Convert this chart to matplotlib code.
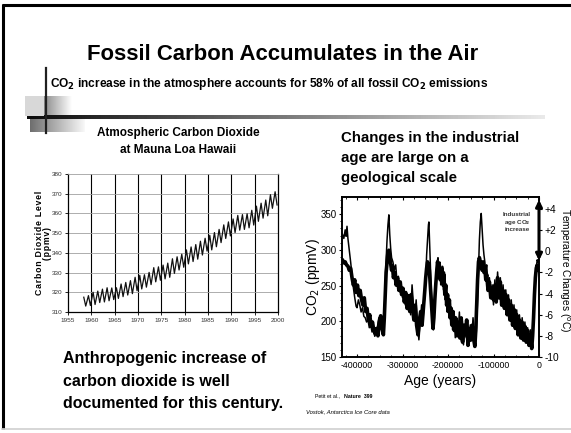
import numpy as np
import matplotlib
matplotlib.use("Agg")
import matplotlib.pyplot as plt
from matplotlib.patches import Rectangle

plt.rcParams['font.family'] = ['Liberation Sans', 'DejaVu Sans']

# ---------------- data ----------------
# Mauna Loa: yearly seasonal maximum (spring) and minimum (autumn), ppmv
ml_years = list(range(1958, 2000))
ml_peak = [317.5, 318.3, 320.0, 320.6, 321.6, 322.3, 322.2, 322.3, 324.2, 325.0,
           325.9, 327.6, 328.6, 328.9, 330.1, 332.5, 332.9, 333.8, 334.8, 337.0,
           338.0, 339.3, 341.5, 343.0, 344.2, 345.9, 347.4, 348.9, 350.3, 351.9,
           354.2, 355.7, 357.2, 359.0, 359.4, 359.8, 361.6, 363.7, 365.2, 366.8,
           369.5, 371.0]
ml_trough = [313.0, 313.3, 313.8, 314.8, 315.1, 315.7, 316.3, 316.9, 317.8, 318.6,
             319.3, 320.8, 321.7, 322.6, 323.9, 325.3, 326.1, 326.8, 327.6, 329.6,
             331.3, 332.7, 334.4, 335.6, 336.8, 338.9, 340.9, 341.5, 343.1, 345.2,
             347.3, 348.6, 350.3, 351.5, 351.9, 352.7, 354.1, 356.0, 357.6, 358.8,
             362.6, 364.3]
ml_xticks = [1955, 1960, 1965, 1970, 1975, 1980, 1985, 1990, 1995, 2000]
ml_yticks = [310, 320, 330, 340, 350, 360, 370, 380]

# Vostok ice core, age in kyr before present
vostok_co2_age_ka = [435, 432, 429, 426, 424, 422, 420, 417, 414, 411,
                     408, 405, 402, 400, 397, 394, 391, 388, 385, 382,
                     379, 376, 373, 370, 367, 364, 361, 358, 355, 352,
                     349, 346, 343, 341, 339, 337, 334, 332, 330, 328,
                     326, 324, 321, 318, 315, 312, 309, 306, 303, 300,
                     297, 294, 291, 288, 285, 282, 279, 276, 273, 270,
                     267, 264, 261, 258, 255, 252, 249, 247, 245, 243,
                     242, 240, 238, 236, 234, 232, 230, 228, 226, 224,
                     222, 220, 218, 216, 214, 212, 210, 208, 206, 204,
                     202, 200, 198, 196, 194, 192, 190, 187, 184, 181,
                     178, 175, 172, 169, 166, 163, 160, 157, 154, 151,
                     148, 145, 142, 139, 137, 135, 133, 131, 129, 127,
                     125, 123, 121, 119, 117, 115, 112, 109, 106, 103,
                     100, 97, 94, 91, 88, 85, 82, 79, 76, 73,
                     70, 67, 64, 61, 58, 55, 52, 49, 46, 43,
                     40, 37, 34, 31, 28, 25, 22, 19, 16, 14,
                     12, 10, 8, 6, 4, 2, 0]
vostok_co2_ppmv = [314, 322, 316, 328, 319, 333, 316, 300, 283, 265,
                   247, 233, 221, 219, 230, 223, 213, 219, 207, 205,
                   199, 202, 191, 195, 185, 188, 179, 184, 193, 205,
                   199, 188, 181, 196, 230, 272, 314, 335, 349, 321,
                   302, 289, 283, 272, 279, 255, 263, 241, 251, 233,
                   244, 223, 235, 216, 230, 209, 251, 223, 205, 230,
                   195, 174, 199, 223, 202, 230, 258, 293, 314, 335,
                   339, 300, 265, 230, 202, 188, 216, 244, 265, 283,
                   289, 275, 283, 251, 272, 277, 244, 269, 230, 244,
                   213, 230, 205, 223, 195, 216, 188, 209, 177, 202,
                   181, 213, 174, 205, 167, 195, 177, 202, 171, 195,
                   174, 205, 181, 171, 195, 230, 272, 314, 339, 351,
                   328, 307, 293, 283, 269, 279, 251, 261, 237, 251,
                   223, 258, 233, 269, 237, 261, 230, 251, 223, 244,
                   213, 237, 205, 230, 202, 223, 195, 216, 185, 209,
                   181, 205, 177, 199, 174, 191, 171, 188, 167, 181,
                   202, 230, 258, 275, 286, 283, 289]
vostok_temp_age_ka = [435, 432, 429, 426, 423, 420, 417, 414, 411, 408,
                      405, 402, 399, 396, 393, 390, 387, 384, 381, 378,
                      375, 372, 369, 366, 363, 360, 357, 354, 351, 348,
                      345, 342, 340, 338, 336, 334, 332, 330, 328, 326,
                      324, 322, 320, 317, 314, 311, 308, 305, 302, 299,
                      296, 293, 290, 287, 284, 281, 278, 275, 272, 269,
                      266, 263, 260, 257, 254, 251, 249, 247, 245, 243,
                      241, 239, 237, 235, 233, 231, 229, 227, 225, 223,
                      221, 219, 217, 215, 213, 211, 209, 207, 205, 203,
                      201, 199, 197, 195, 193, 191, 189, 186, 183, 180,
                      177, 174, 171, 168, 165, 162, 159, 156, 153, 150,
                      147, 144, 141, 139, 137, 135, 133, 131, 129, 127,
                      125, 123, 121, 119, 117, 115, 112, 109, 106, 103,
                      100, 97, 94, 91, 88, 85, 82, 79, 76, 73,
                      70, 67, 64, 61, 58, 55, 52, 49, 46, 43,
                      40, 37, 34, 31, 28, 25, 22, 19, 16, 14,
                      12, 10, 8, 6, 4, 2, 0]
vostok_temp_c = [-1.0, -0.8, -1.1, -1.0, -1.3, -1.4, -1.8, -1.6, -2.5, -3.2,
                 -2.7, -3.9, -3.2, -4.2, -3.7, -4.6, -5.1, -4.4, -5.7, -5.4,
                 -6.5, -6.0, -7.1, -6.7, -7.5, -7.8, -7.3, -8.0, -6.7, -6.1,
                 -7.3, -7.9, -6.3, -4.1, -2.0, -1.0, -0.1, 0.1, -0.6, -1.2,
                 -1.8, -1.4, -2.5, -2.0, -3.2, -2.5, -3.7, -2.9, -4.1, -3.5,
                 -4.8, -3.9, -5.4, -4.2, -5.7, -4.1, -5.4, -6.5, -5.1, -7.0,
                 -7.9, -6.5, -5.7, -7.0, -5.4, -3.7, -2.5, -1.6, -1.0, -1.2,
                 -1.8, -3.2, -4.6, -6.0, -7.3, -6.3, -4.6, -3.2, -2.0, -1.0,
                 -1.6, -1.3, -2.7, -2.0, -1.6, -3.2, -2.2, -4.1, -3.2, -5.1,
                 -4.1, -5.7, -4.6, -6.3, -5.4, -7.0, -5.7, -7.5, -6.3, -8.0,
                 -6.7, -8.2, -6.3, -8.6, -7.0, -7.9, -6.5, -8.9, -7.3, -8.4,
                 -7.0, -8.2, -9.0, -7.5, -5.1, -2.7, -1.0, -0.6, -1.0, -1.3,
                 -1.8, -1.0, -2.0, -1.6, -2.7, -2.2, -3.7, -2.9, -4.4, -3.5,
                 -4.6, -3.2, -4.8, -2.5, -4.4, -2.9, -5.1, -3.7, -5.4, -4.1,
                 -6.0, -4.6, -6.5, -5.1, -7.0, -5.5, -7.3, -6.0, -7.9, -6.5,
                 -8.2, -6.7, -8.4, -7.1, -8.6, -7.5, -8.9, -7.9, -9.2, -8.0,
                 -6.3, -4.1, -2.5, -1.6, -1.3, -1.6, -1.8]
industrial_co2 = [285, 370]
vostok_xticks = [-400000, -300000, -200000, -100000, 0]
vostok_co2_ticks = [150, 200, 250, 300, 350]
vostok_temp_ticks = [-10, -8, -6, -4, -2, 0, 2, 4]
vostok_temp_labels = ['-10', '-8', '-6', '-4', '-2', '0', '+2', '+4']

W, H = 571, 433
fig = plt.figure(figsize=(W / 100, H / 100), dpi=100)

# ---------------- slide background / decoration ----------------
bg = fig.add_axes([0, 0, 1, 1], zorder=-5)
bg.axis('off')
bg.plot([2.5, 2.5], [4, 429], color='black', lw=2.2, solid_capstyle='butt')
bg.plot([2, W], [4.5, 4.5], color='black', lw=2.2, solid_capstyle='butt')
bg.plot([2, W], [428.5, 428.5], color='#d0d0d0', lw=1.2)
bg.add_patch(Rectangle((25, 96), 19, 20, facecolor='#d8d8d8', edgecolor='none'))
grad = np.linspace(0, 1, 100)[None, :]
bg.imshow(grad, extent=(44, 72, 116, 96), cmap='gray', vmin=-1.2, vmax=1, aspect='auto',
          interpolation='bilinear')
bg.imshow(grad, extent=(30, 85, 132, 119), cmap='gray', vmin=-0.8, vmax=1.05, aspect='auto',
          interpolation='bilinear')
bg.imshow(grad, extent=(27, 545, 118.8, 115.6), cmap='gray', vmin=-0.05, vmax=1.1,
          aspect='auto', interpolation='bilinear')
bg.plot([46, 46], [68, 133], color='#202020', lw=1.6)
bg.set_xlim(0, W)
bg.set_ylim(H, 0)

# ---------------- texts ----------------
bg.text(283, 54, 'Fossil Carbon Accumulates in the Air', ha='center', va='center',
        fontsize=15.9, fontweight='bold')
bg.text(50, 84, 'CO$_\\mathbf{2}$ increase in the atmosphere accounts for 58% of all fossil '
        'CO$_\\mathbf{2}$ emissions', ha='left', va='center', fontsize=8.6, fontweight='bold')
bg.text(178, 133, 'Atmospheric Carbon Dioxide', ha='center', va='center',
        fontsize=8.5, fontweight='bold', fontstretch='condensed')
bg.text(178, 150, 'at Mauna Loa Hawaii', ha='center', va='center',
        fontsize=8.5, fontweight='bold')
bg.text(63, 381, 'Anthropogenic increase of\ncarbon dioxide is well\ndocumented for this century.',
        ha='left', va='center', fontsize=11.5, fontweight='bold', linespacing=1.62)
bg.text(341, 158, 'Changes in the industrial\nage are large on a\ngeological scale',
        ha='left', va='center', fontsize=10.8, fontweight='bold', linespacing=1.55)
bg.text(315, 396, 'Petit et al., ', ha='left', va='center', fontsize=3.8)
bg.text(344, 396, 'Nature  399', ha='left', va='center', fontsize=3.8, fontweight='bold')
bg.text(306, 412, 'Vostok, Antarctica Ice Core data', ha='left', va='center',
        fontsize=4.2, style='italic')

# ---------------- left chart: Mauna Loa ----------------
ax1 = fig.add_axes([68 / W, 1 - 312 / H, 210 / W, 138 / H])
t = []
v = []
for yr, pk, tr in zip(ml_years, ml_peak, ml_trough):
    t += [yr + 0.38, yr + 0.8]
    v += [pk, tr]
ax1.plot(t, v, color='#111111', lw=0.9)
ax1.set_xlim(1955, 2000)
ax1.set_ylim(310, 380)
ax1.set_xticks(ml_xticks)
ax1.set_yticks(ml_yticks)
ax1.set_xticklabels([str(x) for x in ml_xticks], fontsize=4.6, color='#333333')
ax1.set_yticklabels([str(y) for y in ml_yticks], fontsize=4.6, color='#333333')
ax1.tick_params(length=2, width=0.6, pad=2)
for x in ml_xticks[1:-1]:
    ax1.axvline(x, color='black', lw=0.8, zorder=0)
for y in ml_yticks[1:-1]:
    ax1.axhline(y, color='#a0a0a0', lw=0.6, zorder=0)
for s in ['left', 'bottom', 'right']:
    ax1.spines[s].set_linewidth(0.9)
ax1.spines['top'].set_color('#a0a0a0')
ax1.spines['top'].set_linewidth(0.6)
bg.text(39, 243, '\u200a'.join('Carbon Dioxide Level'), rotation=90, ha='center',
        va='center', fontsize=6.3, fontweight='bold')
bg.text(47.5, 243, '\u200a'.join('(ppmv)'), rotation=90, ha='center', va='center',
        fontsize=6.3, fontweight='bold')

# ---------------- right chart: Vostok ----------------
ax2 = fig.add_axes([342 / W, 1 - 357 / H, 197 / W, 160 / H])
ax3 = ax2.twinx()
ax3.plot(np.array(vostok_temp_age_ka) * -1000, vostok_temp_c, color='black', lw=2.6,
         solid_joinstyle='round')
ax2.plot(np.array(vostok_co2_age_ka) * -1000, vostok_co2_ppmv, color='black', lw=1.1)
ax2.set_zorder(ax3.get_zorder() + 1)
ax2.patch.set_visible(False)
ax2.set_xlim(-433000, 0)
ax2.set_ylim(150, 374)
ax3.set_ylim(-10, 5.13)
ax2.set_xticks(vostok_xticks)
ax2.set_xticklabels([str(x) for x in vostok_xticks], fontsize=6.3)
ax2.set_yticks(vostok_co2_ticks)
ax2.set_yticklabels([str(y) for y in vostok_co2_ticks], fontsize=7)
ax2.set_yticks(np.arange(160, 374, 10), minor=True)
ax2.set_xticks(np.arange(-425000, 0, 25000), minor=True)
ax2.tick_params(axis='both', which='major', length=2.5, width=0.8, pad=1.2)
ax2.tick_params(axis='x', which='major', pad=3)
ax2.tick_params(axis='both', which='minor', length=1.5, width=0.6)
ax2.tick_params(axis='x', which='both', top=True, direction='in')
ax3.set_yticks(vostok_temp_ticks)
ax3.set_yticklabels(vostok_temp_labels, fontsize=7.3)
ax3.tick_params(axis='y', length=2.5, width=0.8, pad=1.5)
for a in (ax2, ax3):
    for s in a.spines.values():
        s.set_linewidth(1.2)
bg.text(440, 381, 'Age (years)', ha='center', va='center', fontsize=10)
bg.text(313, 277, 'CO$_2$ (ppmV)', rotation=90, ha='center', va='center', fontsize=10)
bg.text(564, 270, 'Temperature Changes ($^{\\rm o}$C)', rotation=270, ha='center',
        va='center', fontsize=7.3)
ax2.annotate('', xy=(0, industrial_co2[1]), xytext=(0, industrial_co2[0]),
             arrowprops=dict(arrowstyle='<|-|>', lw=2.2, color='black', mutation_scale=9,
                             shrinkA=0, shrinkB=0), annotation_clip=False)
ax2.text(-48000, 353, 'Industrial\nage CO$_\\mathbf{2}$\nincrease', ha='center', va='top',
         fontsize=4.5, fontweight='bold', color='#333333', linespacing=1.1,
         multialignment='center')

fig.savefig('out.png', dpi=100)
